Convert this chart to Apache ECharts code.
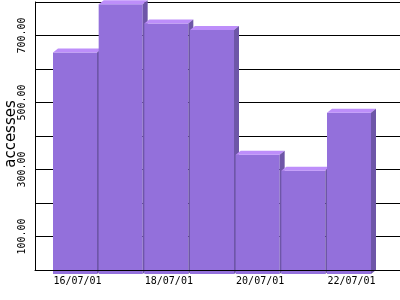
<!DOCTYPE html>
<html>
<head>
<meta charset="utf-8">
<script src="https://cdn.jsdelivr.net/npm/echarts@6/dist/echarts.min.js"></script>
<style>html,body{margin:0;padding:0;background:#fff}#chart{width:400px;height:300px}</style>
</head>
<body>
<div id="chart"></div>
<script>
const categories = ['16/07/01','17/07/01','18/07/01','19/07/01','20/07/01','21/07/01','22/07/01'];
const accesses = [661, 805, 748, 728, 356, 308, 481];
const yLabelValues = [100, 300, 500, 700];
const yAxisName = 'accesses';
const yMin = 0, yMax = 800, yStep = 100;

const chart = echarts.init(document.getElementById('chart'), null, {renderer: 'canvas'});
const mono = 'DejaVu Sans Mono';
const option = {
  animation: false,
  backgroundColor: '#ffffff',
  grid: [
    {left: 35, right: 0, top: 2, bottom: 30, containLabel: false, outerBoundsMode: 'none'},
    {left: 54.67, right: 25.67, top: 2, bottom: 30, containLabel: false, outerBoundsMode: 'none'}
  ],
  graphic: [{
    type: 'text', x: 11, y: 134, rotation: Math.PI / 2,
    style: {text: yAxisName, fontFamily: 'DejaVu Sans', fontSize: 15, fill: '#000',
            align: 'center', verticalAlign: 'middle'}
  }],
  xAxis: [
    {gridIndex: 0, type: 'value', min: 0, max: 1, z: 10,
     axisLine: {show: true, lineStyle: {color: '#000', width: 1}},
     axisTick: {show: false}, axisLabel: {show: false}, splitLine: {show: false}},
    {gridIndex: 1, type: 'category', data: categories, boundaryGap: true,
     axisLine: {show: false}, axisTick: {show: false},
     axisLabel: {interval: 1, margin: 6, fontFamily: mono, fontSize: 10, color: '#000'},
     splitLine: {show: false}}
  ],
  yAxis: [
    {gridIndex: 0, type: 'value', min: yMin, max: yMax, interval: yStep, z: 0,
     axisLine: {show: true, lineStyle: {color: '#000', width: 1}},
     axisTick: {show: false},
     axisLabel: {rotate: 90, margin: 8, fontFamily: mono, fontSize: 10, color: '#000',
       formatter: v => yLabelValues.indexOf(v) >= 0 ? v.toFixed(2) : ''},
     splitLine: {show: true, lineStyle: {color: '#000', width: 1}}},
    {gridIndex: 1, type: 'value', min: yMin, max: yMax, interval: yStep, show: false}
  ],
  series: [{
    type: 'custom',
    xAxisIndex: 1, yAxisIndex: 1, z: 2,
    data: accesses.map((v, i) => [i, v]),
    encode: {x: 0, y: 1},
    renderItem: function (params, api) {
      const i = api.value(0), v = api.value(1);
      const topPt = api.coord([i, v]);
      const basePt = api.coord([i, 0]);
      const c = topPt[0], yb = topPt[1], base = basePt[1];
      const dx = 5, dy = 4;
      const x0 = c - 24.5, x1 = c + 19.5;
      const y0 = yb + dy, y1 = base + dy;
      return {
        type: 'group',
        children: [
          {type: 'rect', shape: {x: x0, y: y0, width: x1 - x0, height: y1 - y0},
           style: {fill: '#9370DB'}},
          {type: 'polygon', shape: {points: [[x0, y0], [x0 + dx, yb], [x1 + dx, yb], [x1, y0]]},
           style: {fill: '#BD8EFA'}},
          {type: 'polygon', shape: {points: [[x1, y0], [x1 + dx, yb], [x1 + dx, base], [x1, y1]]},
           style: {fill: '#6E56A8'}}
        ]
      };
    }
  }]
};
chart.setOption(option);
</script>
</body>
</html>
